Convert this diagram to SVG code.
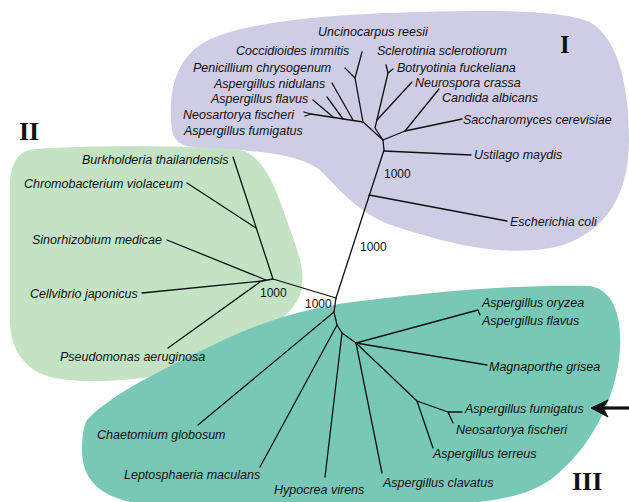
<svg xmlns="http://www.w3.org/2000/svg" width="629" height="502" viewBox="0 0 629 502">
<style>
.t{font-family:"Liberation Sans",Arial,sans-serif;font-style:italic;font-size:12.5px;fill:#111}
.b{font-family:"Liberation Sans",Arial,sans-serif;font-size:12px;fill:#111}
.r{font-family:"Liberation Serif","Times New Roman",serif;font-weight:bold;fill:#111}
.e{fill:none;stroke:#111;stroke-width:1.3;stroke-linecap:round;stroke-linejoin:round}
</style>
<rect width="629" height="502" fill="#ffffff"/>
<g id="cluster-I">
<path d="M172,130 C168,100 172,60 205,42 C240,22 330,14 420,12 C500,10 560,10 590,22 C620,40 629,90 629,140 C629,190 610,230 560,246 C500,260 440,240 400,228 C360,216 340,190 320,170 C300,155 260,150 200,148 C180,147 174,140 172,130 Z" fill="#cfcce6"/>
<text class="r" x="560" y="53" font-size="25">I</text>
</g>
<g id="cluster-II">
<path d="M30,150 C60,145 200,145 240,150 C262,155 275,185 285,215 C295,245 308,270 300,295 C290,320 250,345 200,365 C160,380 90,385 55,378 C25,372 10,350 10,320 L10,185 C10,165 18,152 30,150 Z" fill="#c4e3c4"/>
<text class="r" x="19" y="140" font-size="26">II</text>
</g>
<g id="cluster-III">
<path d="M87,420 C110,395 160,370 230,337 C280,315 320,305 370,300 C430,292 520,284 590,286 C615,290 622,320 620,350 C616,400 590,450 550,480 C520,500 480,505 400,505 L150,505 C100,500 82,480 82,450 C82,435 84,425 87,420 Z" fill="#78c8b6"/>
<text class="r" x="572" y="490" font-size="26">III</text>
</g>
<g id="connectors" class="e">
<path d="M336,298 L384,150"/>
<path d="M369,195 L507,221"/>
<path d="M384,151 L471,155"/>
<path d="M384,150 L383,140"/>
<path d="M383,140 L405,131 L439,89"/>
<path d="M405,131 L462,119"/>
<path d="M383,140 L375,128 L388,73 L386,65"/>
<path d="M388,73 L393,69"/>
<path d="M377,120 L412,82"/>
<path d="M383,140 L363,122 L311,114 L304,112"/>
<path d="M311,114 L305,116"/>
<path d="M363,122 L355,78 L362,52"/>
<path d="M355,78 L345,68"/>
<path d="M353,120 L332,83"/>
<path d="M343,119 L327,97"/>
<path d="M333,117 L313,100"/>
<path d="M336,298 L273,279 L233,157"/>
<path d="M256,228 L187,183"/>
<path d="M273,279 L262,281"/>
<path d="M266,280 L167,240"/>
<path d="M262,281 L142,293"/>
<path d="M260,282 L168,348"/>
<path d="M336,298 L334,312 L337,325 L342,333 L356,343"/>
<path d="M334,312 L198,425"/>
<path d="M337,325 L260,467"/>
<path d="M342,333 L325,477"/>
<path d="M356,343 L478,310 L480,315"/>
<path d="M356,343 L487,365"/>
<path d="M356,343 L382,473"/>
<path d="M356,343 L417,401 L448,412 L462,412"/>
<path d="M448,412 L453,423"/>
<path d="M417,401 L433,448"/>
</g>
<g id="bootstrap">
<text class="b" x="384" y="178">1000</text>
<text class="b" x="360" y="251">1000</text>
<text class="b" x="260" y="297">1000</text>
<text class="b" x="305" y="308">1000</text>
</g>
<g id="n-uncinocarpus"><text class="t" x="318" y="36">Uncinocarpus reesii</text></g>
<g id="n-coccidioides"><text class="t" x="236" y="55">Coccidioides immitis</text></g>
<g id="n-sclerotinia"><text class="t" x="377" y="55">Sclerotinia sclerotiorum</text></g>
<g id="n-penicillium"><text class="t" x="193" y="72">Penicillium chrysogenum</text></g>
<g id="n-botryotinia"><text class="t" x="397" y="72">Botryotinia fuckeliana</text></g>
<g id="n-a-nidulans"><text class="t" x="214" y="88">Aspergillus nidulans</text></g>
<g id="n-neurospora"><text class="t" x="415" y="87">Neurospora crassa</text></g>
<g id="n-a-flavus-1"><text class="t" x="211" y="103">Aspergillus flavus</text></g>
<g id="n-candida"><text class="t" x="442" y="102">Candida albicans</text></g>
<g id="n-neosartorya-1"><text class="t" x="183" y="119">Neosartorya fischeri</text></g>
<g id="n-saccharomyces"><text class="t" x="463" y="124">Saccharomyces cerevisiae</text></g>
<g id="n-a-fumigatus-1"><text class="t" x="184" y="135">Aspergillus fumigatus</text></g>
<g id="n-ustilago"><text class="t" x="474" y="159">Ustilago maydis</text></g>
<g id="n-ecoli"><text class="t" x="510" y="226">Escherichia coli</text></g>
<g id="n-burkholderia"><text class="t" x="82" y="164">Burkholderia thailandensis</text></g>
<g id="n-chromobacterium"><text class="t" x="24" y="188">Chromobacterium violaceum</text></g>
<g id="n-sinorhizobium"><text class="t" x="32" y="244">Sinorhizobium medicae</text></g>
<g id="n-cellvibrio"><text class="t" x="30" y="298">Cellvibrio japonicus</text></g>
<g id="n-pseudomonas"><text class="t" x="60" y="361">Pseudomonas aeruginosa</text></g>
<g id="n-a-oryzea"><text class="t" x="482" y="307">Aspergillus oryzea</text></g>
<g id="n-a-flavus-2"><text class="t" x="482" y="325">Aspergillus flavus</text></g>
<g id="n-magnaporthe"><text class="t" x="489" y="371">Magnaporthe grisea</text></g>
<g id="n-a-fumigatus-2"><text class="t" x="465" y="413">Aspergillus fumigatus</text></g>
<g id="n-neosartorya-2"><text class="t" x="456" y="434">Neosartorya fischeri</text></g>
<g id="n-a-terreus"><text class="t" x="433" y="458">Aspergillus terreus</text></g>
<g id="n-a-clavatus"><text class="t" x="383" y="487">Aspergillus clavatus</text></g>
<g id="n-hypocrea"><text class="t" x="274" y="494">Hypocrea virens</text></g>
<g id="n-leptosphaeria"><text class="t" x="124" y="479">Leptosphaeria maculans</text></g>
<g id="n-chaetomium"><text class="t" x="97" y="439">Chaetomium globosum</text></g>
<g id="arrow">
<path d="M629,408 L602,408" stroke="#111" stroke-width="3.2" fill="none"/>
<path d="M591,408 L608,400 L603,408 L608,417 Z" fill="#111" stroke="#111" stroke-width="1" stroke-linejoin="miter"/>
</g>
</svg>
